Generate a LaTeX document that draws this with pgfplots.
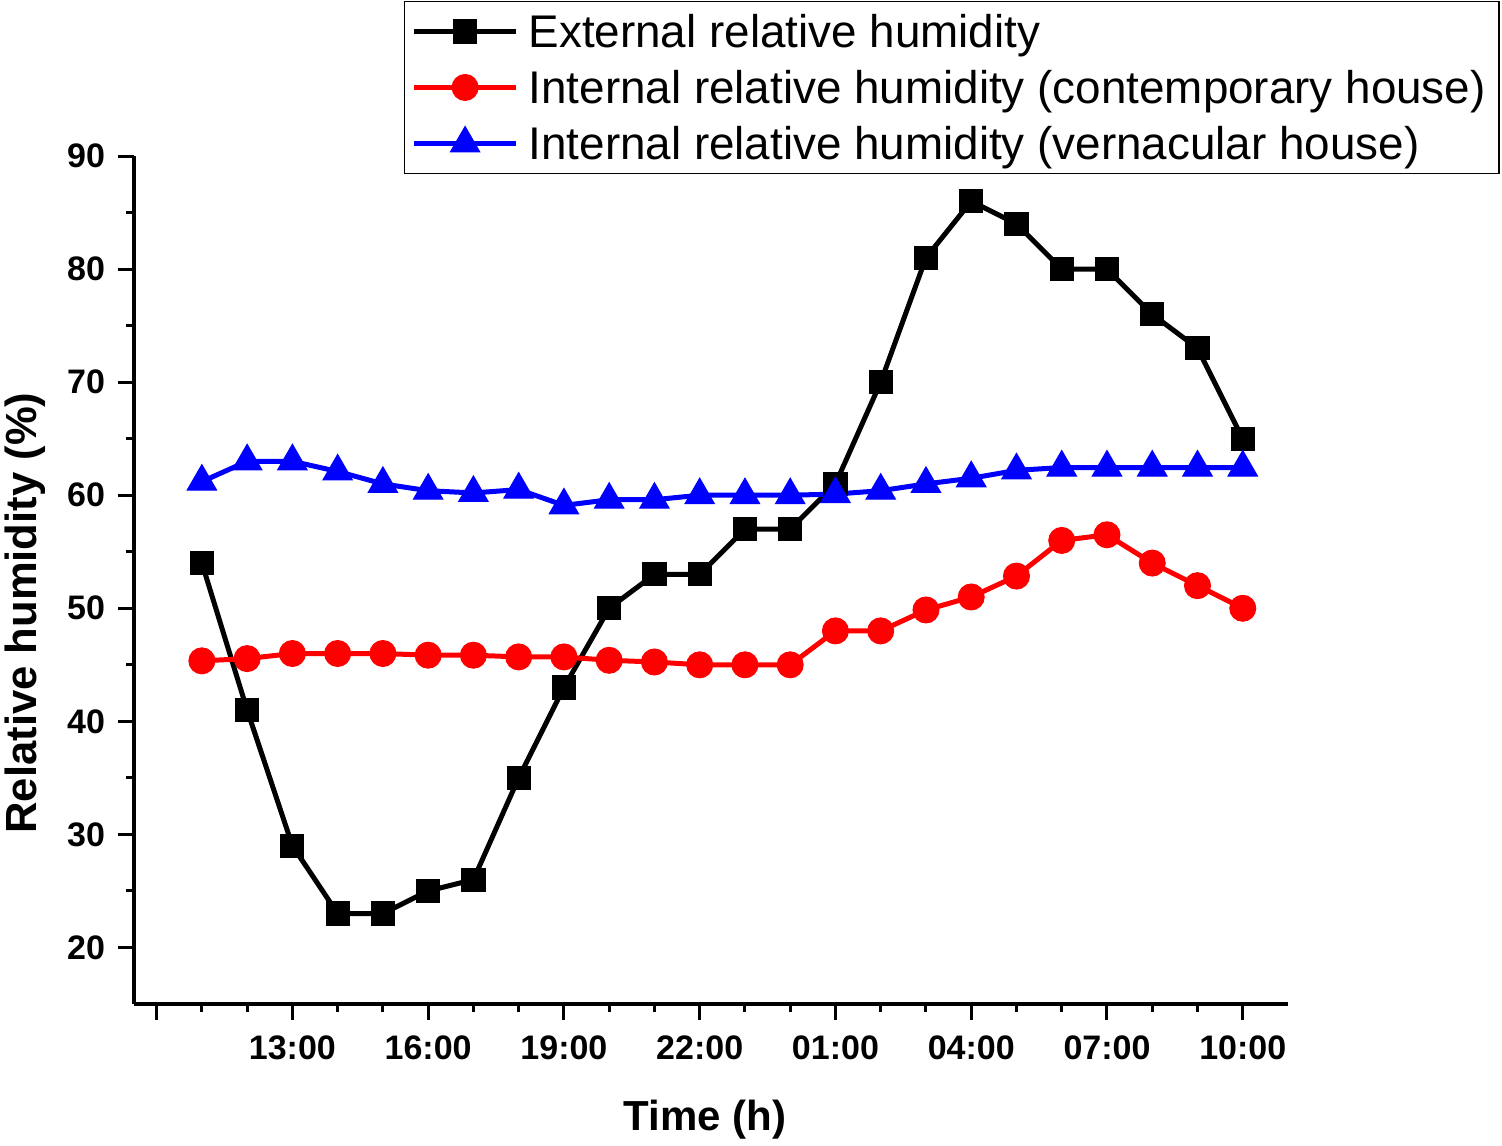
\documentclass[border=0pt]{standalone}
\usepackage{fontspec}
\setmainfont{Liberation Sans}
\usepackage{pgfplots}
\pgfplotsset{compat=1.18}
\begin{document}
\begin{tikzpicture}
\useasboundingbox (0,0) rectangle (751pt,-572.5pt);
\begin{axis}[
  at={(67pt,-502pt)}, anchor=south west,
  scale only axis, width=577pt, height=424pt,
  xmin=9.5, xmax=35, ymin=15, ymax=90,
  axis x line*=bottom, axis y line*=left,
  axis line style={line width=1.6pt},
  tick align=outside,
  major tick length=8pt, minor tick length=4pt,
  every tick/.style={black, line width=1.5pt},
  xtick={10,13,...,34},
  xticklabels={,13:00,16:00,19:00,22:00,01:00,04:00,07:00,10:00},
  minor x tick num=2,
  ytick={20,30,...,90}, minor y tick num=1,
  /pgf/number format/assume math mode=true,
  ticklabel style={font=\fontsize{17}{20}\selectfont\bfseries},
  xticklabel style={yshift=-4.5pt},
  yticklabel style={xshift=-3pt},
  xlabel={Time (h)}, ylabel={Relative humidity (\%)},
  xlabel style={font=\fontsize{21}{25}\selectfont\bfseries,
    at={(axis description cs:0.4948,-0.1368)}, anchor=center},
  ylabel style={font=\fontsize{21.8}{25}\selectfont\bfseries,
    at={(axis description cs:-0.0945,0.461)}, anchor=center},
  legend style={at={(axis description cs:0.2338,1.1832)}, anchor=north west,
    draw=black, line width=0.8pt, inner xsep=0pt, inner ysep=1pt,
    font=\fontsize{22.9}{27}\selectfont,
    nodes={inner ysep=3pt, inner xsep=0pt, text height=19pt, text depth=3pt},
    cells={anchor=west}, row sep=0pt, column sep=0pt},
  legend image code/.code={%
    \draw[mark repeat=2,mark phase=2] plot coordinates {(3.5pt,0pt) (29pt,0pt) (54.5pt,0pt)};
    \path (0pt,0pt) (59.5pt,0pt);},
  legend cell align=left,
]
\addplot[black, line width=2.5pt, mark=square*, mark size=5.8pt,
  mark options={solid, line width=0.5pt, fill=black}] coordinates {
(11,54) (12,41) (13,29) (14,23) (15,23) (16,25) (17,26) (18,35) (19,43) (20,50)
(21,53) (22,53) (23,57) (24,57) (25,61) (26,70) (27,81) (28,86) (29,84) (30,80)
(31,80) (32,76) (33,73) (34,65)};
\addlegendentry{External relative humidity}
\addplot[red, line width=2.5pt, mark=*, mark size=6.5pt,
  mark options={solid, line width=0.5pt, fill=red}] coordinates {
(11,45.35) (12,45.55) (13,46.0) (14,46.0) (15,46.0) (16,45.85) (17,45.85) (18,45.7) (19,45.7) (20,45.4)
(21,45.25) (22,45.0) (23,45.0) (24,45.0) (25,48.0) (26,48.0) (27,49.85) (28,51.0) (29,52.85) (30,56.0)
(31,56.5) (32,54.0) (33,52.0) (34,50.0)};
\addlegendentry{Internal relative humidity (contemporary house)\rule{6.5pt}{0pt}}
\addplot[blue, line width=2.5pt, mark=triangle*, mark size=8.5pt,
  mark options={solid, line width=0.5pt, fill=blue}] coordinates {
(11,61.2) (12,63.0) (13,63.0) (14,62.1) (15,61.0) (16,60.4) (17,60.2) (18,60.5) (19,59.1) (20,59.6)
(21,59.6) (22,60.0) (23,60.0) (24,60.0) (25,60.1) (26,60.4) (27,61.0) (28,61.5) (29,62.2) (30,62.45)
(31,62.45) (32,62.45) (33,62.45) (34,62.45)};
\addlegendentry{Internal relative humidity (vernacular house)}
\end{axis}
\end{tikzpicture}
\end{document}
